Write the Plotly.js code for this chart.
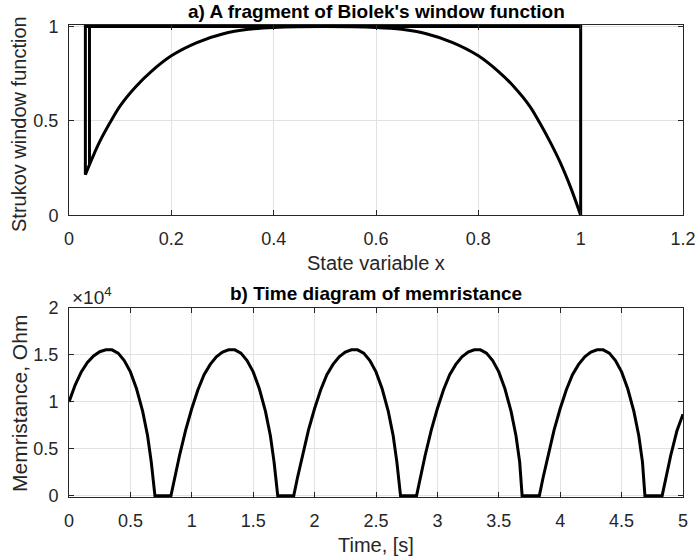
<!DOCTYPE html>
<html>
<head>
<meta charset="utf-8">
<script src="https://cdn.plot.ly/plotly-3.0.1.min.js"></script>
<style>html,body{margin:0;padding:0;background:#fff;}</style>
</head>
<body>
<div id="chart" style="width:697px;height:560px;"></div>
<script>
// ---- Panel a) Biolek window fragment ----
// switching path (window = 1 branch and the jumps)
var pathX = [0.040, 0.040, 1.000, 1.000];
var pathY = [0.270, 1.000, 1.000, 0.000];
var jumpX = [0.032, 0.032, 0.040];
var jumpY = [0.215, 1.000, 1.000];
// curved branch of the window
var curveX = [1.000, 0.980, 0.960, 0.940, 0.920, 0.900, 0.870, 0.840, 0.800, 0.750, 0.700, 0.650, 0.600, 0.500, 0.400, 0.350, 0.300, 0.250, 0.200, 0.160, 0.130, 0.100, 0.080, 0.060, 0.045, 0.032];
var curveY = [0.000, 0.150, 0.280, 0.390, 0.490, 0.580, 0.680, 0.760, 0.845, 0.915, 0.960, 0.985, 0.995, 1.000, 0.995, 0.985, 0.960, 0.915, 0.845, 0.760, 0.680, 0.580, 0.490, 0.390, 0.300, 0.215];
var xTicksA = [0, 0.2, 0.4, 0.6, 0.8, 1, 1.2];
var xTickTextA = ['0', '0.2', '0.4', '0.6', '0.8', '1', '1.2'];
var yTicksA = [0, 0.5, 1];
var yTickTextA = ['0', '0.5', '1'];

// ---- Panel b) memristance vs time ----
var timeS = [
  0, 0.05, 0.10, 0.15, 0.20, 0.25, 0.30, 0.35, 0.40, 0.45, 0.50, 0.55, 0.60, 0.64, 0.67, 0.70,
  0.83, 0.86, 0.90, 0.95,
  1.00, 1.05, 1.10, 1.15, 1.20, 1.25, 1.30, 1.35, 1.40, 1.45, 1.50, 1.55, 1.60, 1.64, 1.67, 1.70,
  1.83, 1.86, 1.90, 1.95,
  2.00, 2.05, 2.10, 2.15, 2.20, 2.25, 2.30, 2.35, 2.40, 2.45, 2.50, 2.55, 2.60, 2.64, 2.67, 2.70,
  2.83, 2.86, 2.90, 2.95,
  3.00, 3.05, 3.10, 3.15, 3.20, 3.25, 3.30, 3.35, 3.40, 3.45, 3.50, 3.55, 3.60, 3.64, 3.67, 3.69,
  3.83, 3.86, 3.90, 3.95,
  4.00, 4.05, 4.10, 4.15, 4.20, 4.25, 4.30, 4.35, 4.40, 4.45, 4.50, 4.55, 4.60, 4.64, 4.67, 4.69,
  4.83, 4.86, 4.90, 4.95, 5.00
];
var memristance = [
  10000, 11800, 13200, 14200, 14900, 15350, 15550, 15550, 15200, 14400, 13200, 11400, 9000, 6400, 3600, 0,
  0, 1900, 4300, 7000,
  9300, 11300, 12900, 14000, 14800, 15300, 15550, 15550, 15200, 14400, 13200, 11400, 9000, 6400, 3600, 0,
  0, 1900, 4300, 7000,
  9300, 11300, 12900, 14000, 14800, 15300, 15550, 15550, 15200, 14400, 13200, 11400, 9000, 6400, 3600, 0,
  0, 1900, 4300, 7000,
  9300, 11300, 12900, 14000, 14800, 15300, 15550, 15550, 15200, 14400, 13200, 11400, 9000, 6400, 3600, 0,
  0, 1900, 4300, 7000,
  9300, 11300, 12900, 14000, 14800, 15300, 15550, 15550, 15200, 14400, 13200, 11400, 9000, 6400, 3600, 0,
  0, 1900, 4300, 6900, 8700
];
var xTicksB = [0, 0.5, 1, 1.5, 2, 2.5, 3, 3.5, 4, 4.5, 5];
var xTickTextB = ['0', '0.5', '1', '1.5', '2', '2.5', '3', '3.5', '4', '4.5', '5'];
var yTicksB = [0, 5000, 10000, 15000, 20000];
var yTickTextB = ['0', '0.5', '1', '1.5', '2'];

var FONT = 'Liberation Sans, Arial, Helvetica, sans-serif';
var AXC = '#262626';
var lineStyle = {color: '#000', width: 3};

var traces = [
  {x: pathX, y: pathY, mode: 'lines', line: lineStyle, xaxis: 'x', yaxis: 'y', hoverinfo: 'skip'},
  {x: jumpX, y: jumpY, mode: 'lines', line: lineStyle, xaxis: 'x', yaxis: 'y', hoverinfo: 'skip'},
  {x: curveX, y: curveY, mode: 'lines', line: {color: '#000', width: 3, shape: 'spline', smoothing: 1}, xaxis: 'x', yaxis: 'y', hoverinfo: 'skip'},
  {x: timeS, y: memristance, mode: 'lines', line: {color: '#000', width: 3, shape: 'linear'}, xaxis: 'x2', yaxis: 'y2', hoverinfo: 'skip'}
];

function axisBase(isX) {
  return {
    showline: true, linecolor: AXC, linewidth: 1, mirror: 'ticks',
    ticks: 'inside', ticklen: 5, tickcolor: AXC, tickwidth: 1,
    showgrid: true, gridcolor: '#e2e2e2', gridwidth: 1, zeroline: false,
    tickfont: {family: FONT, size: 18, color: AXC},
    ticklabelstandoff: isX ? 7 : 6,
    tickmode: 'array', fixedrange: true
  };
}

var xa = axisBase(true); xa.domain = [0, 1]; xa.range = [0, 1.2]; xa.tickvals = xTicksA; xa.ticktext = xTickTextA; xa.anchor = 'y';
var ya = axisBase(false); ya.domain = [0.597, 1]; ya.range = [0, 1.008]; ya.tickvals = yTicksA; ya.ticktext = yTickTextA; ya.anchor = 'x';
var xb = axisBase(true); xb.domain = [0, 1]; xb.range = [0, 5]; xb.tickvals = xTicksB; xb.ticktext = xTickTextB; xb.anchor = 'y2';
var yb = axisBase(false); yb.domain = [0, 0.4004]; yb.range = [-120, 20000]; yb.tickvals = yTicksB; yb.ticktext = yTickTextB; yb.anchor = 'x2';

var layout = {
  width: 697, height: 560,
  margin: {l: 69, r: 14, t: 25, b: 63, pad: 0},
  paper_bgcolor: '#fff', plot_bgcolor: '#fff',
  showlegend: false,
  font: {family: FONT, color: AXC},
  xaxis: xa, yaxis: ya, xaxis2: xb, yaxis2: yb,
  annotations: [
    {text: "<b>a) A fragment of Biolek's window function</b>", xref: 'paper', yref: 'paper', x: 0.5, y: (497 - 11) / 472, xanchor: 'center', yanchor: 'middle', showarrow: false, font: {family: FONT, size: 19, color: '#000'}},
    {text: '<b>b) Time diagram of memristance</b>', xref: 'paper', yref: 'paper', x: 0.5, y: (497 - 294) / 472, xanchor: 'center', yanchor: 'middle', showarrow: false, font: {family: FONT, size: 19, color: '#000'}},
    {text: '×10<sup>4</sup>', xref: 'paper', yref: 'paper', x: 0.002, y: (497 - 296) / 472, xanchor: 'left', yanchor: 'middle', showarrow: false, font: {family: FONT, size: 19, color: AXC}},
    {text: 'State variable x', xref: 'paper', yref: 'paper', x: 0.5, y: (497 - 263) / 472, xanchor: 'center', yanchor: 'middle', showarrow: false, font: {family: FONT, size: 20, color: AXC}},
    {text: 'Time, [s]', xref: 'paper', yref: 'paper', x: 0.5, y: (497 - 545) / 472, xanchor: 'center', yanchor: 'middle', showarrow: false, font: {family: FONT, size: 20, color: AXC}},
    {text: 'Strukov window function', xref: 'paper', yref: 'paper', x: (19 - 69) / 614, y: (497 - 124) / 472, xanchor: 'center', yanchor: 'middle', textangle: -90, showarrow: false, font: {family: FONT, size: 20, color: AXC}},
    {text: 'Memristance, Ohm', xref: 'paper', yref: 'paper', x: (19 - 69) / 614, y: (497 - 404) / 472, xanchor: 'center', yanchor: 'middle', textangle: -90, showarrow: false, font: {family: FONT, size: 21, color: AXC}}
  ]
};

Plotly.newPlot('chart', traces, layout, {staticPlot: true, displayModeBar: false});
</script>
</body>
</html>
